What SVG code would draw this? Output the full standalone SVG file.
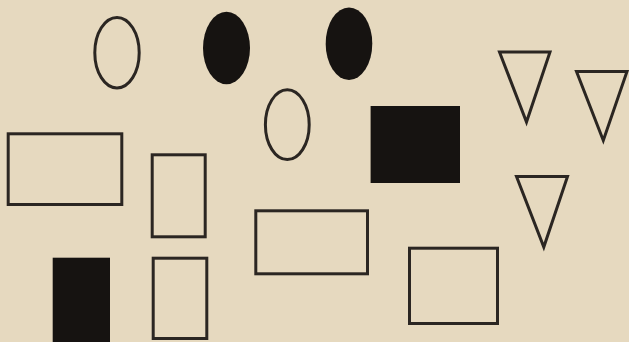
<svg xmlns="http://www.w3.org/2000/svg" width="629" height="342" viewBox="0 0 629 342">
<style>
.o{fill:none;stroke:#2b2622;stroke-width:3;stroke-linejoin:miter}
.f{fill:#161311;stroke:none}
</style>
<rect width="629" height="342" fill="#e6d9bf"/>
<g id="circle1"><ellipse class="o" cx="117" cy="52.7" rx="22.2" ry="35.2"/></g>
<g id="dot1"><ellipse class="f" cx="226.5" cy="48" rx="23.5" ry="36.2"/></g>
<g id="dot2"><ellipse class="f" cx="349" cy="43.7" rx="23.3" ry="36.3"/></g>
<g id="circle2"><ellipse class="o" cx="287.3" cy="124.7" rx="21.9" ry="34.9"/></g>
<g id="tri1"><polygon class="o" points="499.5,52 550,52 526.5,122"/></g>
<g id="tri2"><polygon class="o" points="576.5,71.5 627,71.5 603.3,140.5"/></g>
<g id="tri3"><polygon class="o" points="516.5,176.5 567.5,176.5 543.8,247"/></g>
<g id="rect1"><rect class="o" x="8.2" y="133.8" width="113.6" height="70.7"/></g>
<g id="rect2"><rect class="o" x="152.2" y="154.8" width="53" height="82"/></g>
<g id="block1"><rect class="f" x="370.6" y="106" width="89.4" height="77"/></g>
<g id="rect3"><rect class="o" x="255.8" y="210.8" width="111.7" height="63"/></g>
<g id="rect4"><rect class="o" x="409.5" y="248.2" width="88" height="75.3"/></g>
<g id="block2"><rect class="f" x="52.7" y="257.7" width="57.3" height="84.3"/></g>
<g id="rect5"><rect class="o" x="153.2" y="258.2" width="53.6" height="80.3"/></g>
</svg>
